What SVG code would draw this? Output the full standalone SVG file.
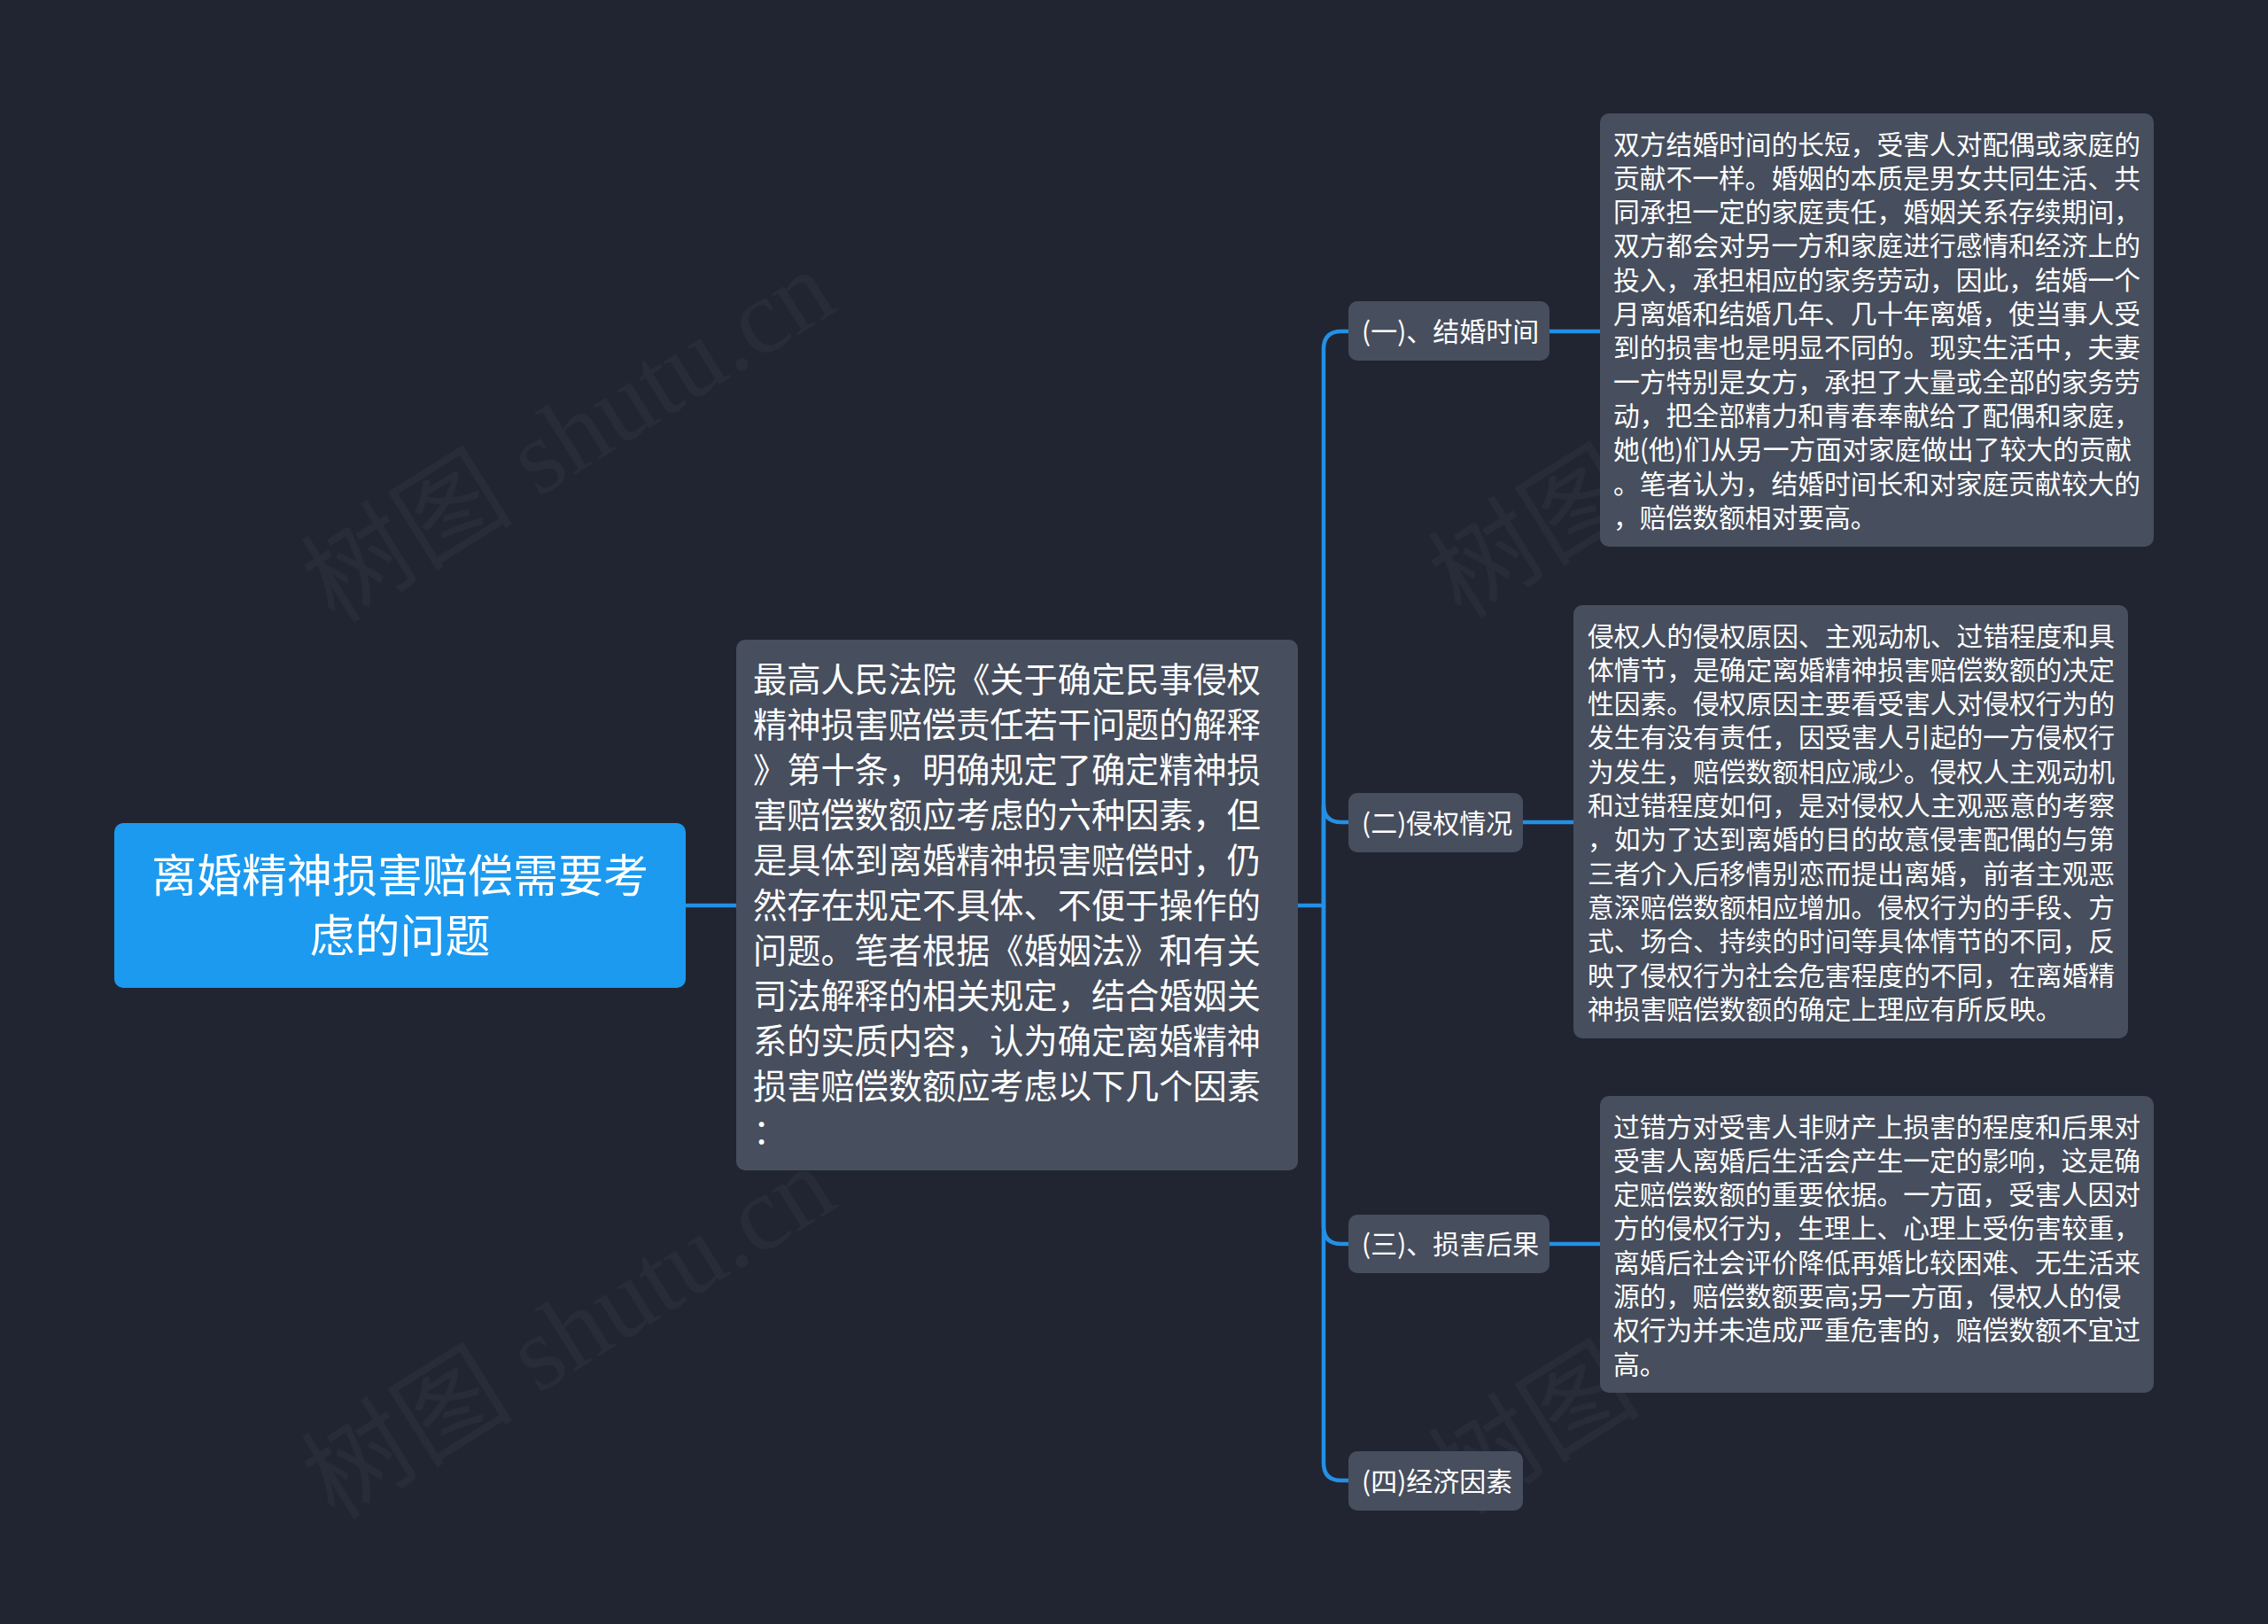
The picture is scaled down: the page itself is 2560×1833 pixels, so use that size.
<svg xmlns="http://www.w3.org/2000/svg" width="2560" height="1833" viewBox="0 0 2560 1833">
<style>
.bg{fill:#212531}
.node{fill:#474e5d}
.root{fill:#1b9af0}
.t{fill:#ffffff;font-family:'Noto Sans CJK SC','Noto Sans',sans-serif}
.link{fill:none;stroke:#2390e6;stroke-width:4.5;stroke-linecap:round}
.wm{fill:#ffffff;fill-opacity:0.035;font-family:'Liberation Serif','Noto Sans CJK SC',serif;font-size:120px}
</style>
<rect class="bg" x="0" y="0" width="2560" height="1833"/>
<g id="watermark">
<text class="wm" transform="translate(378,705) rotate(-32)">树图 shutu.cn</text>
<text class="wm" transform="translate(378,1717) rotate(-32)">树图 shutu.cn</text>
<text class="wm" transform="translate(1650,700) rotate(-32)">树图</text>
<text class="wm" transform="translate(1650,1712) rotate(-32)">树图</text>
</g>
<g id="connectors">
<path class="link" d="M774,1022 H831"/>
<path class="link" d="M1465,1022 H1494 V394 Q1494,374 1514,374 H1522"/>
<path class="link" d="M1494,1022 V908 Q1494,928 1514,928 H1522"/>
<path class="link" d="M1494,1022 V1384 Q1494,1404 1514,1404 H1522"/>
<path class="link" d="M1494,1022 V1651 Q1494,1671 1514,1671 H1522"/>
<path class="link" d="M1749,374 H1806"/>
<path class="link" d="M1719,928 H1776"/>
<path class="link" d="M1749,1404 H1806"/>
</g>
<g id="root">
<rect class="root" x="129" y="929" width="645" height="186" rx="10"/>
<text class="t" font-size="51" text-anchor="middle"><tspan x="451.5" y="1007">离婚精神损害赔偿需要考</tspan><tspan x="451.5" y="1075">虑的问题</tspan></text>
</g>
<g id="intro">
<rect class="node" x="831" y="722" width="634" height="599" rx="10"/>
<text class="t" font-size="38.2">
<tspan x="850" y="781">最高人民法院《关于确定民事侵权</tspan>
<tspan x="850" y="832">精神损害赔偿责任若干问题的解释</tspan>
<tspan x="850" y="883">》第十条，明确规定了确定精神损</tspan>
<tspan x="850" y="934">害赔偿数额应考虑的六种因素，但</tspan>
<tspan x="850" y="985">是具体到离婚精神损害赔偿时，仍</tspan>
<tspan x="850" y="1036">然存在规定不具体、不便于操作的</tspan>
<tspan x="850" y="1087">问题。笔者根据《婚姻法》和有关</tspan>
<tspan x="850" y="1138">司法解释的相关规定，结合婚姻关</tspan>
<tspan x="850" y="1189">系的实质内容，认为确定离婚精神</tspan>
<tspan x="850" y="1240">损害赔偿数额应考虑以下几个因素</tspan>
<tspan x="850" y="1291">：</tspan>
</text>
</g>
<g id="cat1">
<rect class="node" x="1522" y="340" width="227" height="67" rx="10"/>
<text class="t" font-size="30" x="1537" y="385">(一)、结婚时间</text>
</g>
<g id="cat2">
<rect class="node" x="1522" y="895" width="197" height="67" rx="10"/>
<text class="t" font-size="30" x="1537" y="940">(二)侵权情况</text>
</g>
<g id="cat3">
<rect class="node" x="1522" y="1371" width="227" height="66" rx="10"/>
<text class="t" font-size="30" x="1537" y="1415">(三)、损害后果</text>
</g>
<g id="cat4">
<rect class="node" x="1522" y="1638" width="197" height="67" rx="10"/>
<text class="t" font-size="30" x="1537" y="1683">(四)经济因素</text>
</g>
<g id="detail1">
<rect class="node" x="1806" y="128" width="625" height="489" rx="10"/>
<text class="t" font-size="29.75">
<tspan x="1821" y="173.5">双方结婚时间的长短，受害人对配偶或家庭的</tspan>
<tspan x="1821" y="211.8">贡献不一样。婚姻的本质是男女共同生活、共</tspan>
<tspan x="1821" y="250.1">同承担一定的家庭责任，婚姻关系存续期间，</tspan>
<tspan x="1821" y="288.4">双方都会对另一方和家庭进行感情和经济上的</tspan>
<tspan x="1821" y="326.7">投入，承担相应的家务劳动，因此，结婚一个</tspan>
<tspan x="1821" y="365">月离婚和结婚几年、几十年离婚，使当事人受</tspan>
<tspan x="1821" y="403.3">到的损害也是明显不同的。现实生活中，夫妻</tspan>
<tspan x="1821" y="441.6">一方特别是女方，承担了大量或全部的家务劳</tspan>
<tspan x="1821" y="479.9">动，把全部精力和青春奉献给了配偶和家庭，</tspan>
<tspan x="1821" y="518.2">她(他)们从另一方面对家庭做出了较大的贡献</tspan>
<tspan x="1821" y="556.5">。笔者认为，结婚时间长和对家庭贡献较大的</tspan>
<tspan x="1821" y="594.8">，赔偿数额相对要高。</tspan>
</text>
</g>
<g id="detail2">
<rect class="node" x="1776" y="683" width="626" height="489" rx="10"/>
<text class="t" font-size="29.75">
<tspan x="1792" y="728.5">侵权人的侵权原因、主观动机、过错程度和具</tspan>
<tspan x="1792" y="766.8">体情节，是确定离婚精神损害赔偿数额的决定</tspan>
<tspan x="1792" y="805.1">性因素。侵权原因主要看受害人对侵权行为的</tspan>
<tspan x="1792" y="843.4">发生有没有责任，因受害人引起的一方侵权行</tspan>
<tspan x="1792" y="881.7">为发生，赔偿数额相应减少。侵权人主观动机</tspan>
<tspan x="1792" y="920">和过错程度如何，是对侵权人主观恶意的考察</tspan>
<tspan x="1792" y="958.3">，如为了达到离婚的目的故意侵害配偶的与第</tspan>
<tspan x="1792" y="996.6">三者介入后移情别恋而提出离婚，前者主观恶</tspan>
<tspan x="1792" y="1034.9">意深赔偿数额相应增加。侵权行为的手段、方</tspan>
<tspan x="1792" y="1073.2">式、场合、持续的时间等具体情节的不同，反</tspan>
<tspan x="1792" y="1111.5">映了侵权行为社会危害程度的不同，在离婚精</tspan>
<tspan x="1792" y="1149.8">神损害赔偿数额的确定上理应有所反映。</tspan>
</text>
</g>
<g id="detail3">
<rect class="node" x="1806" y="1237" width="625" height="335" rx="10"/>
<text class="t" font-size="29.75">
<tspan x="1821" y="1282.5">过错方对受害人非财产上损害的程度和后果对</tspan>
<tspan x="1821" y="1320.8">受害人离婚后生活会产生一定的影响，这是确</tspan>
<tspan x="1821" y="1359.1">定赔偿数额的重要依据。一方面，受害人因对</tspan>
<tspan x="1821" y="1397.4">方的侵权行为，生理上、心理上受伤害较重，</tspan>
<tspan x="1821" y="1435.7">离婚后社会评价降低再婚比较困难、无生活来</tspan>
<tspan x="1821" y="1474">源的，赔偿数额要高;另一方面，侵权人的侵</tspan>
<tspan x="1821" y="1512.3">权行为并未造成严重危害的，赔偿数额不宜过</tspan>
<tspan x="1821" y="1550.6">高。</tspan>
</text>
</g>
</svg>
